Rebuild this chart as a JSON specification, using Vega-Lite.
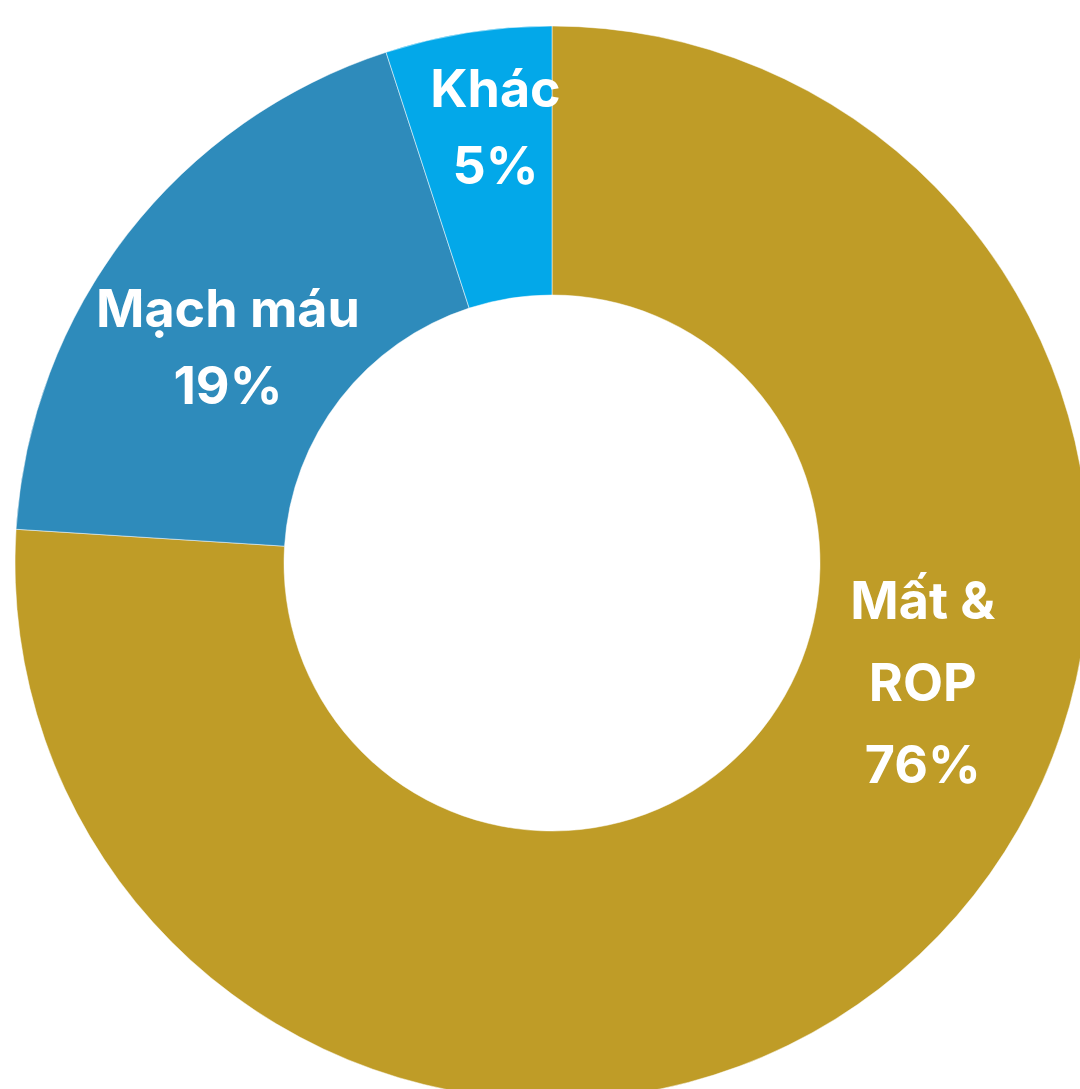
{
  "$schema": "https://vega.github.io/schema/vega-lite/v6.json",
  "autosize": "none",
  "width": 1104,
  "height": 1126,
  "padding": {"left": 0, "top": 0, "right": -24, "bottom": -37},
  "background": "#ffffff",
  "config": {"view": {"stroke": null}},
  "data": {
    "values": [
      {"category": "Mất & ROP", "value": 76, "order": 1, "label": "Mất & \nROP\n76%"},
      {"category": "Mạch máu", "value": 19, "order": 2, "label": "Mạch máu\n19%"},
      {"category": "Khác", "value": 5, "order": 3, "label": "Khác\n5%"}
    ]
  },
  "encoding": {
    "theta": {"field": "value", "type": "quantitative", "stack": true},
    "order": {"field": "order", "type": "quantitative"}
  },
  "layer": [
    {
      "mark": {"type": "arc", "outerRadius": 537, "innerRadius": 268, "stroke": "#ffffff", "strokeWidth": 0.5},
      "encoding": {
        "color": {
          "field": "category",
          "type": "nominal",
          "scale": {"domain": ["Mất & ROP", "Mạch máu", "Khác"], "range": ["#BF9C27", "#2E8BBB", "#03A8E9"]},
          "legend": null
        }
      }
    },
    {
      "mark": {"type": "text", "radius": 400, "font": "Inter", "fontWeight": "bold", "fontSize": 52, "lineBreak": "\n", "lineHeight": 82, "color": "#ffffff", "align": "center", "baseline": "middle", "dx": 97, "dy": -252},
      "encoding": {
        "text": {"field": "label"},
        "opacity": {"condition": {"test": "datum.order == 1", "value": 1}, "value": 0}
      }
    },
    {
      "mark": {"type": "text", "radius": 400, "font": "Inter", "fontWeight": "bold", "fontSize": 52, "lineBreak": "\n", "lineHeight": 77, "color": "#ffffff", "align": "center", "baseline": "middle", "dx": -8, "dy": -7},
      "encoding": {
        "text": {"field": "label"},
        "opacity": {"condition": {"test": "datum.order == 2", "value": 1}, "value": 0}
      }
    },
    {
      "mark": {"type": "text", "radius": 400, "font": "Inter", "fontWeight": "bold", "fontSize": 52, "lineBreak": "\n", "lineHeight": 77, "color": "#ffffff", "align": "center", "baseline": "middle", "dx": 6, "dy": -77},
      "encoding": {
        "text": {"field": "label"},
        "opacity": {"condition": {"test": "datum.order == 3", "value": 1}, "value": 0}
      }
    }
  ]
}
